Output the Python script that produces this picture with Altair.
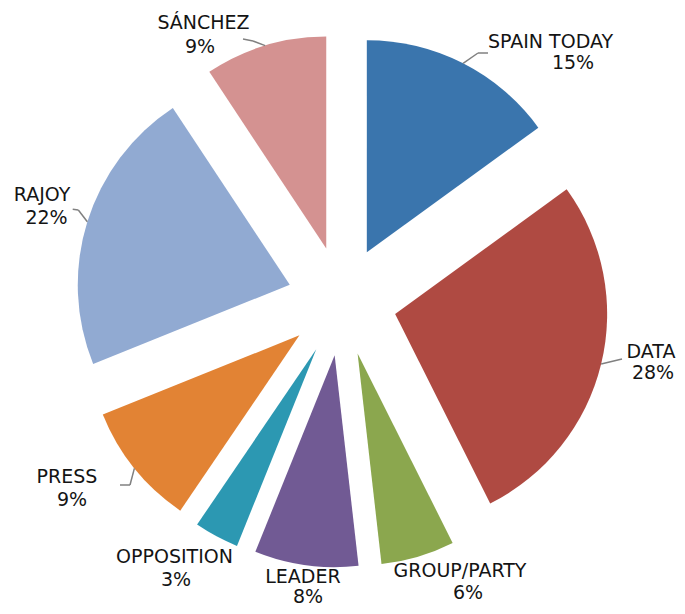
import altair as alt
import pandas as pd

# ---- data ----
categories = ["SPAIN TODAY", "DATA", "GROUP/PARTY", "LEADER", "OPPOSITION", "PRESS", "RAJOY", "SÁNCHEZ"]
shares = [15.0, 27.6, 5.6, 7.9, 3.4, 9.4, 21.8, 9.3]
colors = ["#3A75AD", "#AF4A42", "#8BA74E", "#715A94", "#2C98B2", "#E28334", "#91AAD2", "#D49291"]

# ---- label layout (px from the pie centre) ----
name_dx = [208.5, 309, 118, -39, -167.5, -275, -300, -138.5]
name_dy = [-259.3, 51, 269.7, 276, 255.7, 175.7, -106, -278]
pct_dx = [231, 311, 126, -34, -166, -270, -295.5, -142]
pct_dy = [-238, 72, 292, 296, 279, 199, -83, -254]
has_leader = [True, True, False, False, False, True, True, True]
elbow_dx = [136, 280, 0, 0, 0, -212, -263.7, -89]
elbow_dy = [-248, 58, 0, 0, 0, 184, -91, -260]
end_dx = [146, 280, 0, 0, 0, -222, -269.3, -99]
end_dy = [-248, 58, 0, 0, 0, 184, -91.7, -262]

# ---- geometry / style ----
W, H = 669, 598
CX, CY = 334, 293          # pie centre inside the plot area
R = 212                    # slice radius (px)
EXPLODE = 54.7             # explosion distance (px)
FONT = "DejaVu Sans"
FS = 19

df = pd.DataFrame({
    "order": list(range(len(categories))),
    "category": categories,
    "share": shares,
    "nx": name_dx, "ny": name_dy,
    "px": pct_dx, "py": pct_dy,
    "lead": has_leader,
    "l1x": elbow_dx, "l1y": elbow_dy,
    "l2x": end_dx, "l2y": end_dy,
})

xs = alt.Scale(domain=[-CX, W - CX], range=[0, W])
ys = alt.Scale(domain=[-CY, H - CY], range=[0, H])

base = alt.Chart(df).transform_window(
    cum="sum(share)", sort=[alt.SortField("order")], frame=[None, 0]
).transform_calculate(
    t0="datum.cum - datum.share",
    mid="(datum.cum - datum.share / 2) / 100 * 2 * PI",
).transform_calculate(
    ox=f"{EXPLODE} * sin(datum.mid)",
    oy=f"-{EXPLODE} * cos(datum.mid)",
    ax=f"{EXPLODE + R} * sin(datum.mid)",
    ay=f"-{EXPLODE + R} * cos(datum.mid)",
    pct="format(datum.share / 100, '.0%')",
)

arcs = base.mark_arc(outerRadius=R).encode(
    x=alt.X("ox:Q", scale=xs, axis=None),
    y=alt.Y("oy:Q", scale=ys, axis=None),
    theta=alt.Theta("t0:Q", scale=alt.Scale(domain=[0, 100]), stack=None),
    theta2="cum:Q",
    color=alt.Color("category:N", scale=alt.Scale(domain=categories, range=colors), legend=None),
)

lead1 = base.transform_filter("datum.lead").mark_rule(color="#808080", strokeWidth=1.5).encode(
    x=alt.X("ax:Q", scale=xs, axis=None),
    y=alt.Y("ay:Q", scale=ys, axis=None),
    x2="l1x:Q",
    y2="l1y:Q",
)
lead2 = base.transform_filter("datum.lead").mark_rule(color="#808080", strokeWidth=1.5).encode(
    x=alt.X("l1x:Q", scale=xs, axis=None),
    y=alt.Y("l1y:Q", scale=ys, axis=None),
    x2="l2x:Q",
    y2="l2y:Q",
)

names = base.mark_text(font=FONT, fontSize=FS, color="#141414", baseline="middle", align="center").encode(
    x=alt.X("nx:Q", scale=xs, axis=None),
    y=alt.Y("ny:Q", scale=ys, axis=None),
    text="category:N",
)
pcts = base.mark_text(font=FONT, fontSize=FS, color="#141414", baseline="middle", align="center").encode(
    x=alt.X("px:Q", scale=xs, axis=None),
    y=alt.Y("py:Q", scale=ys, axis=None),
    text="pct:N",
)

chart = alt.layer(arcs, lead1, lead2, names, pcts).properties(
    width=W, height=H,
    autosize=alt.AutoSizeParams(type="none"),
    padding=0,
).configure_view(strokeWidth=0)

chart.save("out.html", embed_options={"renderer": "svg", "actions": False})
